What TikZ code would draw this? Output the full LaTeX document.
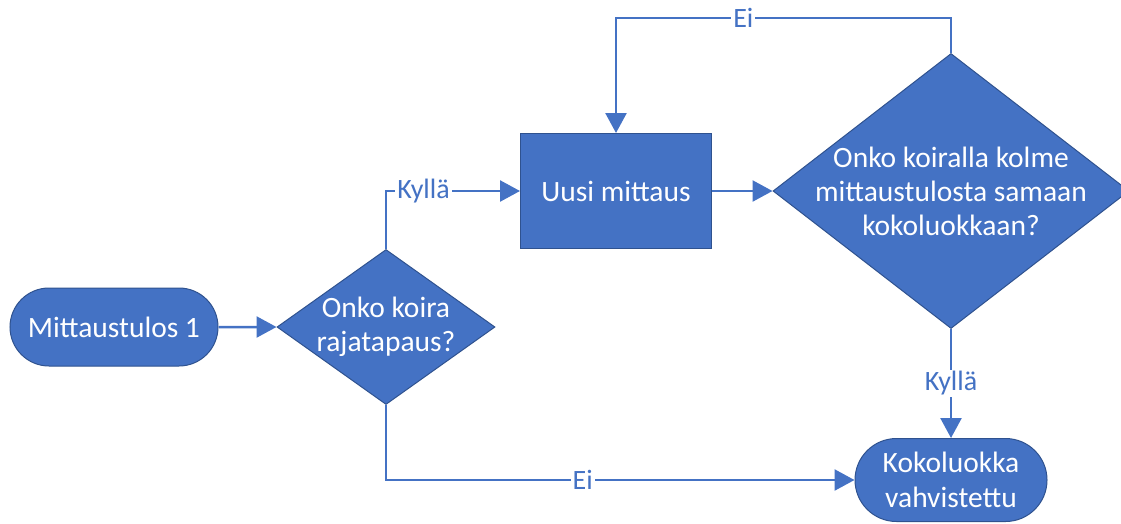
\documentclass[tikz,border=0pt]{standalone}
\usepackage{fontspec}
\setmainfont{Carlito}
\usetikzlibrary{arrows.meta}
\usetikzlibrary{shapes}

\definecolor{flowBlue}{RGB}{68,114,196}
\definecolor{flowEdge}{RGB}{47,82,143}

\begin{document}
\begin{tikzpicture}[x = 1pt, y = -1pt]
	\tikzstyle{terminalStyle} = [shape = rounded rectangle, draw = flowEdge, line width = 1pt, fill = flowBlue, text = white, inner sep = 0pt, align = center, font = \fontsize{29.5}{35}\selectfont]
	\tikzstyle{processStyle} = [shape = rectangle, draw = flowEdge, line width = 1pt, fill = flowBlue, text = white, inner sep = 0pt, align = center, font = \fontsize{29.5}{35}\selectfont]
	\tikzstyle{decisionStyle} = [shape = diamond, draw = flowEdge, line width = 1pt, fill = flowBlue, inner sep = 0pt]
	\tikzstyle{decisionText} = [text = white, align = center, inner sep = 0pt, font = \fontsize{29.5}{34}\selectfont]
	\tikzstyle{flowStyle} = [draw = flowBlue, line width = 2.5pt, -{Triangle[length = 20pt, width = 21pt]}]
	\tikzstyle{labelStyle} = [fill = white, text = flowBlue, inner sep = 2pt, font = \fontsize{28}{32}\selectfont]
	\path[use as bounding box] (0, 0) rectangle (1121, 523);
	\node[terminalStyle, minimum width = 208pt, minimum height = 78pt] (start) at (114, 327) {Mittaustulos 1};
	\node[decisionStyle, minimum width = 218pt, minimum height = 155pt, label = {[decisionText]center:{Onko koira\\rajatapaus?}}] (d1) at (386, 327) {};
	\node[processStyle, minimum width = 191pt, minimum height = 115pt] (uusi) at (616, 191) {Uusi mittaus};
	\node[decisionStyle, minimum width = 356pt, minimum height = 275pt, label = {[decisionText]center:{Onko koiralla kolme\\mittaustulosta samaan\\kokoluokkaan?}}] (d2) at (951, 191) {};
	\node[terminalStyle, minimum width = 192pt, minimum height = 83pt] (koko) at (951, 480) {Kokoluokka\\vahvistettu};
	\draw[flowStyle] (start) -- (d1);
	\draw[flowStyle] (d1.north) |- node[labelStyle, pos = 0.64] {Kyllä} (uusi.west);
	\draw[flowStyle] (uusi) -- (d2);
	\draw[flowStyle] (d2.north) -- ++(0, -35) -| node[labelStyle, pos = 0.31] {Ei} (uusi.north);
	\draw[flowStyle] (d2) -- node[labelStyle] {Kyllä} (koko);
	\draw[flowStyle] (d1.south) |- node[labelStyle, pos = 0.71] {Ei} (koko.west);
\end{tikzpicture}
\end{document}
